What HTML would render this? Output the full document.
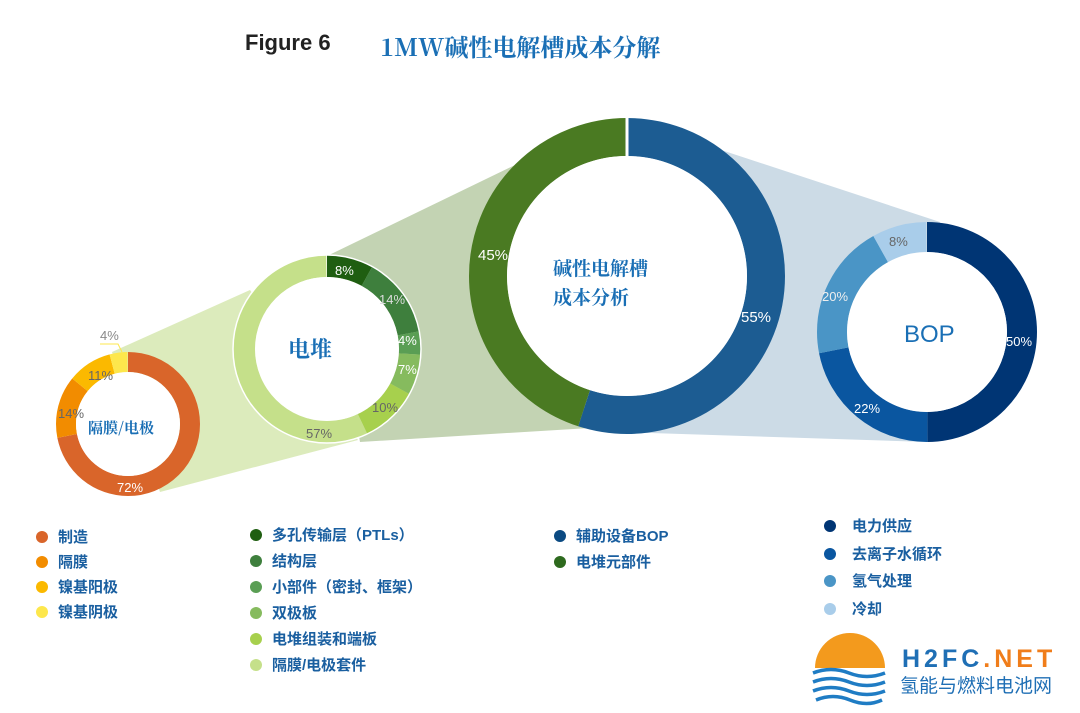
<!DOCTYPE html>
<html><head><meta charset="utf-8"><style>
body{margin:0;background:#fff;width:1080px;height:713px;overflow:hidden;font-family:"Liberation Sans","Noto Sans CJK SC",sans-serif}
svg{position:absolute;left:0;top:0}
</style></head><body>
<svg width="1080" height="713" viewBox="0 0 1080 713">
<polygon points="112,352 250,290 358,440 160,492" fill="#dcebbc"/>
<polygon points="327,256 515,165 590,428 360,442" fill="#c3d3b3"/>
<polygon points="627,119 940,222 927,442 620,432" fill="#ccdbe6"/>
<g font-family="Liberation Sans, sans-serif" font-size="13">
<g transform="rotate(-90 128 424)" fill="none" stroke-width="20">
<circle cx="128" cy="424" r="62" pathLength="100" stroke="#d9652a" stroke-dasharray="72 100"/>
<circle cx="128" cy="424" r="62" pathLength="100" stroke="#f28c00" stroke-dasharray="14 100" stroke-dashoffset="-72"/>
<circle cx="128" cy="424" r="62" pathLength="100" stroke="#fbb900" stroke-dasharray="10 100" stroke-dashoffset="-86"/>
<circle cx="128" cy="424" r="62" pathLength="100" stroke="#fde74c" stroke-dasharray="4 100" stroke-dashoffset="-96"/>
</g>
<circle cx="128" cy="424" r="52" fill="#fff"/>
<text x="117" y="492" fill="#fff">72%</text>
<text x="58" y="418" fill="#666">14%</text>
<text x="88" y="380" fill="#666">11%</text>
<text x="100" y="340" fill="#888">4%</text>
<polyline points="100,344 118,344 122,352" fill="none" stroke="#fde74c"/>
<text x="88" y="433" fill="#1a6fb5" font-size="15" font-weight="bold" font-family="Noto Serif CJK SC,serif">隔膜/电极</text>
<g transform="rotate(-90 327 349)" fill="none" stroke-width="22">
<circle cx="327" cy="349" r="83" pathLength="100" stroke="#1f5e11" stroke-dasharray="8 100"/>
<circle cx="327" cy="349" r="83" pathLength="100" stroke="#3e7f3d" stroke-dasharray="14 100" stroke-dashoffset="-8"/>
<circle cx="327" cy="349" r="83" pathLength="100" stroke="#5a9e54" stroke-dasharray="4 100" stroke-dashoffset="-22"/>
<circle cx="327" cy="349" r="83" pathLength="100" stroke="#86bb5e" stroke-dasharray="7 100" stroke-dashoffset="-26"/>
<circle cx="327" cy="349" r="83" pathLength="100" stroke="#a7d04d" stroke-dasharray="10 100" stroke-dashoffset="-33"/>
<circle cx="327" cy="349" r="83" pathLength="100" stroke="#c5e08a" stroke-dasharray="57 100" stroke-dashoffset="-43"/>
</g>
<circle cx="327" cy="349" r="94" fill="none" stroke="#fff" stroke-width="1.5"/>
<circle cx="327" cy="349" r="72" fill="#fff"/>
<text x="335" y="275" fill="#fff">8%</text>
<text x="379" y="304" fill="#ddd">14%</text>
<text x="398" y="345" fill="#fff">4%</text>
<text x="398" y="374" fill="#fff">7%</text>
<text x="372" y="412" fill="#666">10%</text>
<text x="306" y="438" fill="#666">57%</text>
<text x="288" y="357" fill="#1a6fb5" font-size="22" font-weight="bold" font-family="Noto Serif CJK SC,serif">电堆</text>
<g transform="rotate(-90 627 276)" fill="none" stroke-width="38">
<circle cx="627" cy="276" r="139" pathLength="100" stroke="#1c5c92" stroke-dasharray="55 100"/>
<circle cx="627" cy="276" r="139" pathLength="100" stroke="#4a7a22" stroke-dasharray="45 100" stroke-dashoffset="-55"/>
</g>
<circle cx="627" cy="276" r="120" fill="#fff"/>
<line x1="627" y1="117" x2="627" y2="157" stroke="#fff" stroke-width="3"/>
<text x="478" y="260" fill="#fff" font-size="15">45%</text>
<text x="741" y="322" fill="#fff" font-size="15">55%</text>
<text x="553" y="275" fill="#1a6fb5" font-size="19" font-weight="bold" font-family="Noto Serif CJK SC,serif">碱性电解槽</text>
<text x="553" y="304" fill="#1a6fb5" font-size="19" font-weight="bold" font-family="Noto Serif CJK SC,serif">成本分析</text>
<g transform="rotate(-90 927 332)" fill="none" stroke-width="30">
<circle cx="927" cy="332" r="95" pathLength="100" stroke="#003574" stroke-dasharray="50 100"/>
<circle cx="927" cy="332" r="95" pathLength="100" stroke="#0a56a0" stroke-dasharray="22 100" stroke-dashoffset="-50"/>
<circle cx="927" cy="332" r="95" pathLength="100" stroke="#4a95c6" stroke-dasharray="20 100" stroke-dashoffset="-72"/>
<circle cx="927" cy="332" r="95" pathLength="100" stroke="#a9cdea" stroke-dasharray="8 100" stroke-dashoffset="-92"/>
</g>
<circle cx="927" cy="332" r="80" fill="#fff"/>
<text x="1006" y="346" fill="#fff">50%</text>
<text x="854" y="413" fill="#fff">22%</text>
<text x="822" y="301" fill="#eee">20%</text>
<text x="889" y="246" fill="#666">8%</text>
<text x="904" y="342" fill="#1a6fb5" font-size="24">BOP</text>
</g>
<text x="245" y="50" font-size="22" font-weight="bold" fill="#222">Figure 6</text>
<text x="380" y="56" font-size="24" font-weight="bold" fill="#1a6fb5" font-family="Noto Serif CJK SC,serif">1MW碱性电解槽成本分解</text>
<g font-size="15" fill="#1a5fa0" font-weight="bold" font-family="Liberation Sans, Noto Sans CJK SC, sans-serif">
<circle cx="42" cy="537" r="6" fill="#d9652a"/><text x="58" y="542">制造</text>
<circle cx="42" cy="562" r="6" fill="#f28c00"/><text x="58" y="567">隔膜</text>
<circle cx="42" cy="587" r="6" fill="#fbb900"/><text x="58" y="592">镍基阳极</text>
<circle cx="42" cy="612" r="6" fill="#fde74c"/><text x="58" y="617">镍基阴极</text>
<circle cx="256" cy="535" r="6" fill="#1f5e11"/><text x="272" y="540">多孔传输层（PTLs）</text>
<circle cx="256" cy="561" r="6" fill="#3e7f3d"/><text x="272" y="566">结构层</text>
<circle cx="256" cy="587" r="6" fill="#5a9e54"/><text x="272" y="592">小部件（密封、框架）</text>
<circle cx="256" cy="613" r="6" fill="#86bb5e"/><text x="272" y="618">双极板</text>
<circle cx="256" cy="639" r="6" fill="#a7d04d"/><text x="272" y="644">电堆组装和端板</text>
<circle cx="256" cy="665" r="6" fill="#c5e08a"/><text x="272" y="670">隔膜/电极套件</text>
<circle cx="560" cy="536" r="6" fill="#0b4a82"/><text x="576" y="541">辅助设备BOP</text>
<circle cx="560" cy="562" r="6" fill="#2e6a1e"/><text x="576" y="567">电堆元部件</text>
<circle cx="830" cy="526" r="6" fill="#003574"/><text x="852" y="531">电力供应</text>
<circle cx="830" cy="554" r="6" fill="#0a56a0"/><text x="852" y="559">去离子水循环</text>
<circle cx="830" cy="581" r="6" fill="#4a95c6"/><text x="852" y="586">氢气处理</text>
<circle cx="830" cy="609" r="6" fill="#a9cdea"/><text x="852" y="614">冷却</text>
</g>
<path d="M815,668 A35,35 0 0 1 885,668 Z" fill="#f39a1d"/>
<g fill="none" stroke="#1f7cc4" stroke-width="3.5">
<path d="M813,673 q18,-7 36,0 t36,0"/><path d="M813,682 q18,-7 36,0 t36,0"/><path d="M813,691 q18,-7 36,0 t36,0"/><path d="M816,700 q17,-7 34,0 t32,0"/>
</g>
<text x="902" y="667" font-size="25" font-weight="bold" fill="#1f6fb5" letter-spacing="4">H2FC<tspan fill="#f07d1a">.NET</tspan></text>
<text x="900" y="692" font-size="19" fill="#1f6fb5" font-family="Noto Sans CJK SC,sans-serif">氢能与燃料电池网</text>
</svg>
</body></html>
